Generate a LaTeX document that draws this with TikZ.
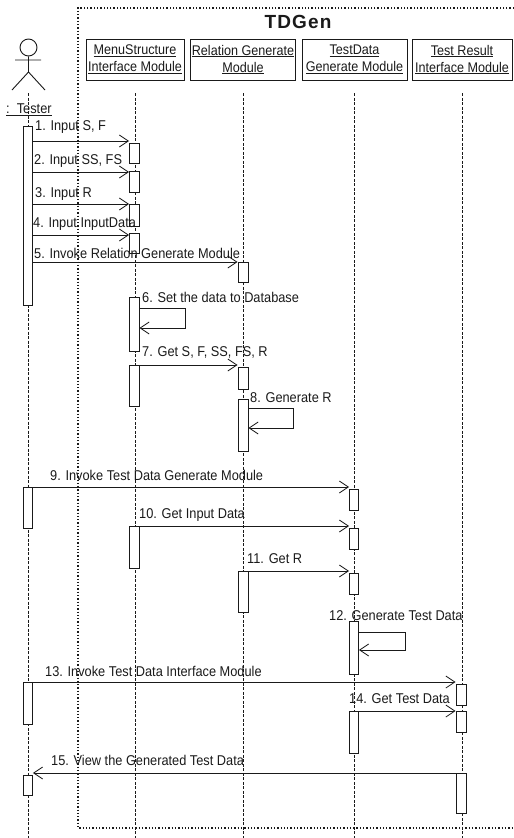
\documentclass[tikz,border=0pt]{standalone}
\usepackage{fontspec}
\setmainfont[FakeStretch=0.9]{Liberation Sans}
\newfontfamily\titlefont[LetterSpace=6]{Liberation Sans}
\usepackage{tikz}
\usetikzlibrary{arrows.meta}
\definecolor{ink}{HTML}{1A1A1A}
\tikzset{
  head/.style ={draw=ink,line width=0.9pt,inner sep=0pt,align=center,minimum height=41pt,
                font=\fontsize{14}{17}\selectfont,text=ink},
  bar/.style  ={draw=ink,line width=0.9pt,fill=white,inner sep=0pt,minimum width=9pt,anchor=north},
  msg/.style  ={-{Straight Barb[length=9pt,width=12pt,line width=0.8pt]},line width=0.9pt,draw=ink},
  life/.style ={draw=ink,line width=0.7pt,dash pattern=on 3pt off 1.5pt},
  lab/.style  ={anchor=west,inner sep=0pt,font=\fontsize{14.2}{15}\selectfont,text=ink},
  frame/.style={draw=ink,line width=1.3pt,dash pattern=on 1.3pt off 2pt}
}
\begin{document}
\begin{tikzpicture}[x=1pt,y=-1pt]
    \useasboundingbox (0,0) rectangle (514,838);
    % modules
    \node[head,minimum width=98pt] (menu) at (135,59.5) {\underline{MenuStructure}\\\underline{Interface Module}};
    \node[head,minimum width=105pt] (rel) at (243,59.5) {\underline{Relation Generate}\\\underline{Module}};
    \node[head,minimum width=105pt] (gen) at (354.5,59.5) {\underline{TestData}\\\underline{Generate Module}};
    \node[head,minimum width=100pt] (res) at (462,59.5) {\underline{Test Result}\\\underline{Interface Module}};
    % system boundary
    \coordinate (ftl) at (78,8);
    \coordinate (ftr) at (514,8);
    \coordinate (fbl) at (78,828);
    \coordinate (fbr) at (514,828);
    \draw[frame] (ftr) -- (ftl) -- (fbl) -- (fbr);
    \node[inner sep=0pt,font=\fontsize{19}{20}\selectfont\titlefont\bfseries,text=ink] (title) at (298,22) {TDGen};
    % actor
    \node[draw=ink,line width=0.9pt,circle,minimum size=17pt,inner sep=0pt] (face) at (28.5,47.5) {};
    \coordinate (hip) at (28.5,72);
    \coordinate (armL) at (15,60);
    \coordinate (armR) at (41,60);
    \coordinate (legL) at (12,90);
    \coordinate (legR) at (45,90);
    \draw[draw=ink,line width=0.9pt] (face.south) -- (hip) (armL) -- (armR) (legL) -- (hip) -- (legR);
    \node[lab] (tester) at (6,110) {\underline{:\ \ Tester}};
    % lifelines
    \coordinate (t0) at (28,93);
    \coordinate (t9) at (28,838);
    \draw[life] (t0) -- (t9);
    \foreach \m in {menu,rel,gen,res}
      \draw[life] ([yshift=-13pt]\m.south) -- (\m.south |- 0,838);
    % activations
    \node[bar,minimum height=179pt] (t1) at (28,126) {};
    \node[bar,minimum height=41pt] (t2) at (28,487) {};
    \node[bar,minimum height=42pt] (t3) at (28,682) {};
    \node[bar,minimum height=20pt] (t4) at (28,775) {};
    \node[bar,minimum height=20pt,minimum width=10pt] (m1) at (134.5,143) {};
    \node[bar,minimum height=21pt,minimum width=10pt] (m2) at (134.5,171) {};
    \node[bar,minimum height=22pt,minimum width=10pt] (m3) at (134.5,204) {};
    \node[bar,minimum height=20pt,minimum width=10pt] (m4) at (134.5,233) {};
    \node[bar,minimum height=54pt,minimum width=10pt] (m5) at (134,297) {};
    \node[bar,minimum height=41pt,minimum width=10pt] (m6) at (134,365) {};
    \node[bar,minimum height=42pt,minimum width=10pt] (m7) at (134,526) {};
    \node[bar,minimum height=20pt,minimum width=10pt] (r1) at (243,262) {};
    \node[bar,minimum height=22pt,minimum width=10pt] (r2) at (243,367) {};
    \node[bar,minimum height=52pt,minimum width=10pt] (r3) at (243,399) {};
    \node[bar,minimum height=41pt,minimum width=10pt] (r4) at (243,571) {};
    \node[bar,minimum height=21pt] (g1) at (354,489) {};
    \node[bar,minimum height=21pt] (g2) at (354,528) {};
    \node[bar,minimum height=21pt] (g3) at (354,573) {};
    \node[bar,minimum height=53pt] (g4) at (354,621) {};
    \node[bar,minimum height=42pt] (g5) at (354,711) {};
    \node[bar,minimum height=21pt,minimum width=10pt] (s1) at (461,684) {};
    \node[bar,minimum height=21pt,minimum width=10pt] (s2) at (461,711) {};
    \node[bar,minimum height=40pt,minimum width=10pt] (s3) at (461,773) {};
    % messages
    \draw[msg] (t1.east |- 0,141) -- (m1.west |- 0,141);
    \draw[msg] (t1.east |- 0,172) -- (m2.west |- 0,172);
    \draw[msg] (t1.east |- 0,204) -- (m3.west |- 0,204);
    \draw[msg] (t1.east |- 0,235) -- (m4.west |- 0,235);
    \draw[msg] (t1.east |- 0,262) -- (r1.west |- 0,262);
    \draw[msg] (m6.east |- 0,365) -- (r2.west |- 0,365);
    \draw[msg] (t2.east |- 0,487) -- (g1.west |- 0,487);
    \draw[msg] (m7.east |- 0,526) -- (g2.west |- 0,526);
    \draw[msg] (r4.east |- 0,571) -- (g3.west |- 0,571);
    \draw[msg] (t3.east |- 0,682) -- (s1.west |- 0,682);
    \draw[msg] (g5.east |- 0,711) -- (s2.west |- 0,711);
    \draw[msg] (s3.west |- 0,773) -- (t4.east |- 0,773);
    % self calls
    \draw[msg] (m5.east |- 0,308) -- (185,308) -- (185,328) -- (m5.east |- 0,328);
    \draw[msg] (r3.east |- 0,408) -- (293,408) -- (293,428) -- (r3.east |- 0,428);
    \draw[msg] (g4.east |- 0,632) -- (405,632) -- (405,650) -- (g4.east |- 0,650);
    % labels
    \node[lab] (l1) at (35,127) {1. Input S, F};
    \node[lab] (l2) at (34,161) {2. Input SS, FS};
    \node[lab] (l3) at (35,194) {3. Input R};
    \node[lab] (l4) at (33,224) {4. Input InputData};
    \node[lab] (l5) at (34,253) {5. Invoke Relation Generate Module};
    \node[lab] (l6) at (142,297) {6. Set the data to Database};
    \node[lab] (l7) at (142,352) {7. Get S, F, SS, FS, R};
    \node[lab] (l8) at (250,398) {8. Generate R};
    \node[lab] (l9) at (50,475) {9. Invoke Test Data Generate Module};
    \node[lab] (l10) at (139,515) {10. Get Input Data};
    \node[lab] (l11) at (247,559) {11. Get R};
    \node[lab] (l12) at (329,616) {12. Generate Test Data};
    \node[lab] (l13) at (45,671) {13. Invoke Test Data Interface Module};
    \node[lab] (l14) at (349,699) {14. Get Test Data};
    \node[lab] (l15) at (51,760) {15. View the Generated Test Data};
\end{tikzpicture}
\end{document}
